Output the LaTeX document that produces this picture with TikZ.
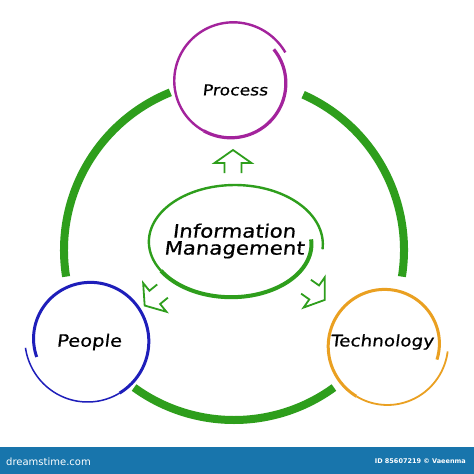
\documentclass[tikz,border=0pt]{standalone}
\usepackage{fontspec}
\newfontfamily\hand[FakeSlant=0.12,FakeStretch=1.15,FakeBold=0.6]{DejaVu Sans}
\newfontfamily\bannerfont{DejaVu Sans}
\definecolor{arcgreen}{RGB}{46,158,28}
\definecolor{procmag}{RGB}{163,35,156}
\definecolor{pplblue}{RGB}{30,30,186}
\definecolor{techorange}{RGB}{234,160,33}
\definecolor{bannerblue}{RGB}{24,117,172}
\tikzset{
  bigarc/.style={draw=arcgreen, line width=8pt, line cap=butt},
  lbl/.style={font=\hand, text=black, inner sep=0pt},
  arrowline/.style={draw=arcgreen, line width=1.8pt, line join=miter},
  hollowarrow/.pic={\draw[arrowline] (8.5,11) -- (8.5,1) -- (18.5,1) -- (0,-12) -- (-18.5,1) -- (-8.5,1) -- (-8.5,11);}
}
\begin{document}
\begin{tikzpicture}[x=1pt,y=-1pt]
\useasboundingbox (0,0) rectangle (474,474);
\fill[white] (0,0) rectangle (474,474);

% centre of the big ring
\coordinate (c) at (234,250);

% nodes (text)
\node[lbl, font=\hand\fontsize{15}{17}\selectfont] (proc) at (235,90) {Process};
\node[lbl, font=\hand\fontsize{17}{19}\selectfont] (ppl) at (89,342) {People};
\node[lbl, font=\hand\fontsize{16}{18}\selectfont] (tech) at (382,342) {Technology};
\node[lbl, font=\hand\fontsize{18.5}{17}\selectfont, align=center] (im) at (234,241) {Information\\Management};

% big green ring segments
\draw[bigarc] (c) ++(-112:170) arc (-112:-189:170);
\draw[bigarc] (c) ++(-234:170) arc (-234:-306:170);
\draw[bigarc] (c) ++(9:170) arc (9:-66:170);

% Process circle (spiral stroke)
\draw[procmag, line width=3.2pt] plot[domain=-38:120, samples=60]
  ({232+(53+8*(\x+38)/369)*cos(\x)}, {82+(53+8*(\x+38)/369)*sin(\x)});
\draw[procmag, line width=2.4pt] plot[domain=120:331, samples=80]
  ({232+(53+8*(\x+38)/369)*cos(\x)}, {82+(53+8*(\x+38)/369)*sin(\x)});

% People circle
\draw[pplblue, line width=1.5pt] plot[domain=173:60, samples=50]
  ({89+(64-9*(173-\x)/371)*cos(\x)}, {340+(64-9*(173-\x)/371)*sin(\x)});
\draw[pplblue, line width=3pt] plot[domain=60:-198, samples=90]
  ({89+(64-9*(173-\x)/371)*cos(\x)}, {340+(64-9*(173-\x)/371)*sin(\x)});

% Technology circle
\draw[techorange, line width=1.8pt] plot[domain=6:120, samples=50]
  ({386+(62-9*(\x-6)/370)*cos(\x)}, {345+(62-9*(\x-6)/370)*sin(\x)});
\draw[techorange, line width=3pt] plot[domain=120:376, samples=90]
  ({386+(62-9*(\x-6)/370)*cos(\x)}, {345+(62-9*(\x-6)/370)*sin(\x)});

% Central ellipse (spiral stroke)
\draw[arcgreen, line width=4pt] plot[domain=-4:150, samples=60]
  ({233+90*(0.87+0.13*(\x+4)/370)*cos(\x)}, {243+60*(0.87+0.13*(\x+4)/370)*sin(\x)});
\draw[arcgreen, line width=2.4pt] plot[domain=150:366, samples=80]
  ({233+90*(0.87+0.13*(\x+4)/370)*cos(\x)}, {243+60*(0.87+0.13*(\x+4)/370)*sin(\x)});

% hollow arrows
\pic at (233,162) {hollowarrow};
\pic[rotate=129] at (154,298) {hollowarrow};
\pic[rotate=-125] at (315,293) {hollowarrow};

% banner
\fill[bannerblue] (0,447) rectangle (474,474);
\node[anchor=west, text=white, inner sep=0pt, font=\bannerfont\fontsize{10}{12}\selectfont] (brand) at (6,462) {dreamstime.com};
\node[anchor=east, text=white, inner sep=0pt, font=\bannerfont\bfseries\fontsize{6.5}{8}\selectfont] (imgid) at (466,461) {ID 85607219 © Vaeenma};
\end{tikzpicture}
\end{document}
